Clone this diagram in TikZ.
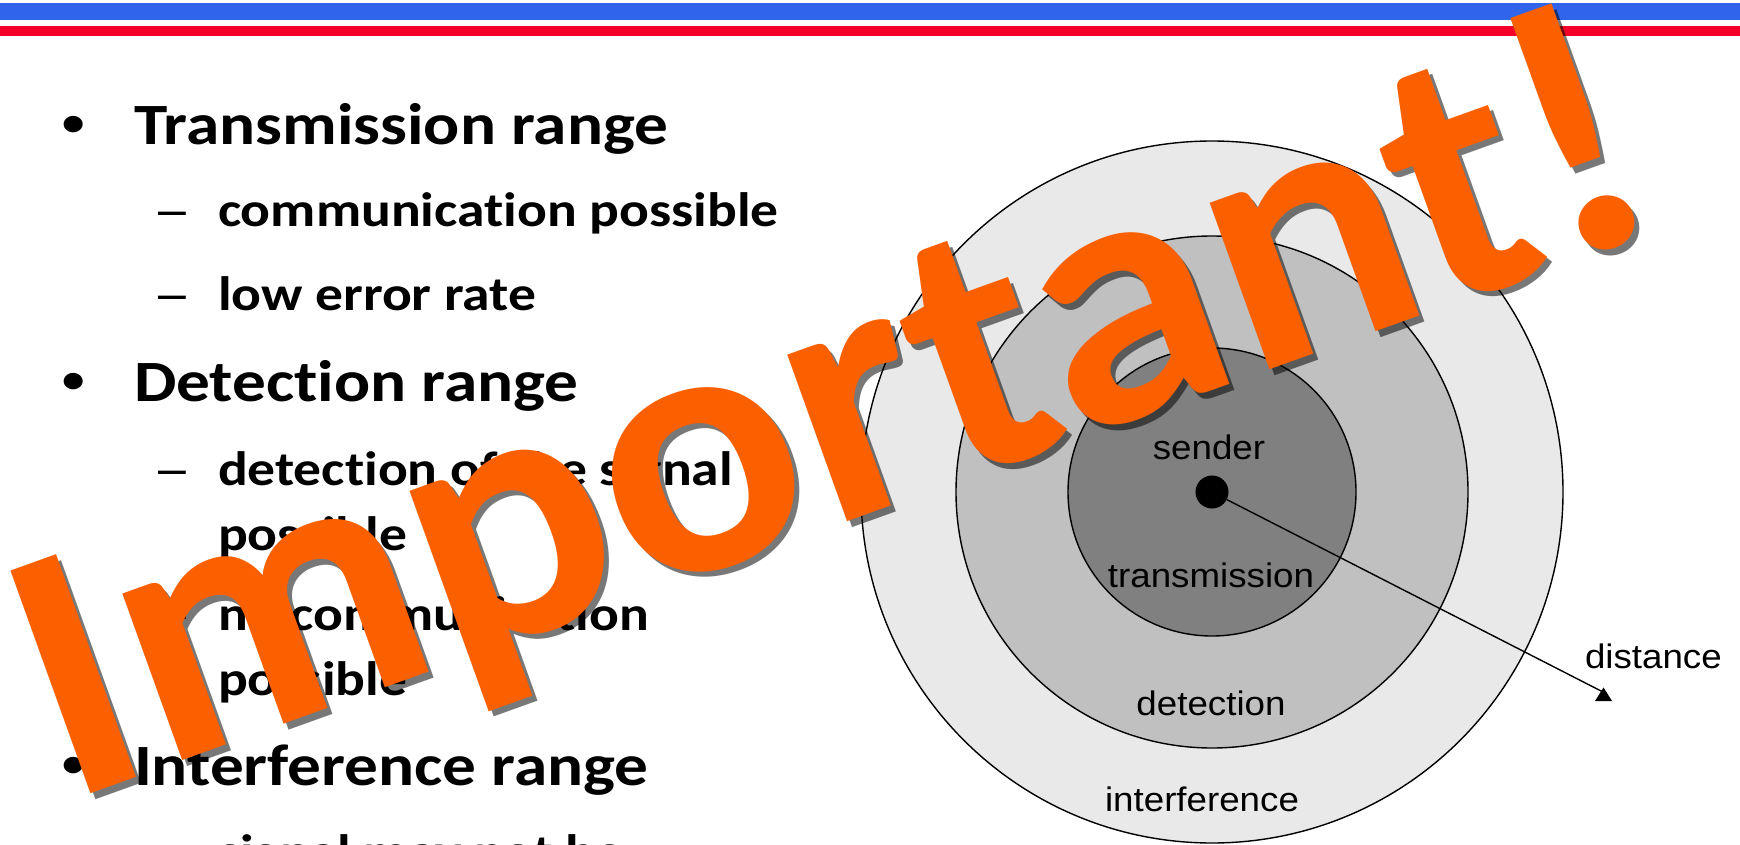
\documentclass[tikz,border=0pt]{standalone}
\usepackage{fontspec}
\setmainfont{Liberation Sans}
\newfontfamily\slidefont[FakeStretch=1.15, Ligatures=NoCommon]{Carlito}
\newfontfamily\diagfont[FakeStretch=1.08]{Liberation Sans}
\newfontfamily\stampfont[FakeStretch=1.03]{Carlito}
\definecolor{barBlueEdge}{RGB}{48,100,235}
\definecolor{barBlueMid}{RGB}{24,46,114}
\definecolor{barRedEdge}{RGB}{245,0,40}
\definecolor{barRedMid}{RGB}{168,0,30}
\definecolor{ringOuter}{RGB}{233,233,233}
\definecolor{ringMid}{RGB}{192,192,192}
\definecolor{ringInner}{RGB}{128,128,128}
\definecolor{stampOrange}{RGB}{250,96,0}
\begin{document}
\begin{tikzpicture}[x=1pt, y=-1pt,
            every node/.style = {inner sep=0pt, outer sep=0pt},
            mainitem/.style = {anchor=base west, font=\slidefont\bfseries\fontsize{58.5}{68}\selectfont},
            subitem/.style = {anchor=base west, font=\slidefont\bfseries\fontsize{48.3}{57}\selectfont},
            bulletmark/.style = {anchor=base, font=\slidefont\bfseries\fontsize{39}{46}\selectfont},
            dashmark/.style = {anchor=base, font=\fontsize{50}{60}\selectfont},
            ring/.style = {circle, draw=black, line width=1.4pt},
            ringlabel/.style = {anchor=base, font=\diagfont\fontsize{34}{40}\selectfont},
            stamptext/.style = {anchor=base west, rotate=19.75, font=\stampfont\bfseries\fontsize{365}{400}\selectfont}]
            \clip (0,0) rectangle (1740,845);
            \fill[white] (0,0) rectangle (1740,845);
            \shade[left color=barBlueEdge, middle color=barBlueMid, right color=barBlueEdge] (0,4) rectangle (1740,20);
            \shade[left color=barRedEdge, middle color=barRedMid, right color=barRedEdge] (0,27) rectangle (1740,35.7);

            \node[bulletmark] (bulletA) at (74,136) {•};
            \node[mainitem] (mainA) at (134,145) {Transmission range};
            \node[dashmark] (dashA1) at (172,226.7) {–};
            \node[subitem] (subA1) at (218,226.7) {communication possible};
            \node[dashmark] (dashA2) at (172,310) {–};
            \node[subitem] (subA2) at (218,310) {low error rate};
            \node[bulletmark] (bulletB) at (74,392.7) {•};
            \node[mainitem] (mainB) at (134,401.7) {Detection range};
            \node[dashmark] (dashB1) at (172,485) {–};
            \node[subitem] (subB1) at (218,485) {detection of the signal};
            \node[subitem] (subB1b) at (218,550) {possible};
            \node[dashmark] (dashB2) at (172,630) {–};
            \node[subitem] (subB2) at (218,630) {no communication};
            \node[subitem] (subB2b) at (218,695) {possible};
            \node[bulletmark] (bulletC) at (74,776) {•};
            \node[mainitem] (mainC) at (134,785) {Interference range};
            \node[dashmark] (dashC1) at (172,868) {–};
            \node[subitem] (subC1) at (218,868) {signal may not be};

            \node[ring, fill=ringOuter, minimum size=702pt] (interference) at (1212,492) {};
            \node[ring, fill=ringMid, minimum size=512pt] (detection) at (1212,492) {};
            \node[ring, fill=ringInner, minimum size=288pt] (transmission) at (1212,492) {};
            \node[circle, fill=black, minimum size=33pt] (sender) at (1212,492) {};
            \node[ringlabel] (senderLbl) at (1209,459) {sender};
            \node[ringlabel] (transLbl) at (1211,587) {transmission};
            \node[ringlabel] (detectLbl) at (1211,715) {detection};
            \node[ringlabel] (interLbl) at (1202,811) {interference};
            \node[ringlabel, anchor=base west] (distLbl) at (1585,668) {distance};
            \coordinate (distEnd) at (1603,692);
            \draw[line width=1.4pt] (sender) -- (distEnd);
            \fill[black] (distEnd) ++(-8,9) -- ++(17,0) -- ++(-8.5,-13.5) -- cycle;

            \node[stamptext, text=black, opacity=0.53] (stampShadow) at (71,808) {Important!};
            \node[stamptext, text=stampOrange] (stamp) at (66,802.5) {Important!};
\end{tikzpicture}
\end{document}
